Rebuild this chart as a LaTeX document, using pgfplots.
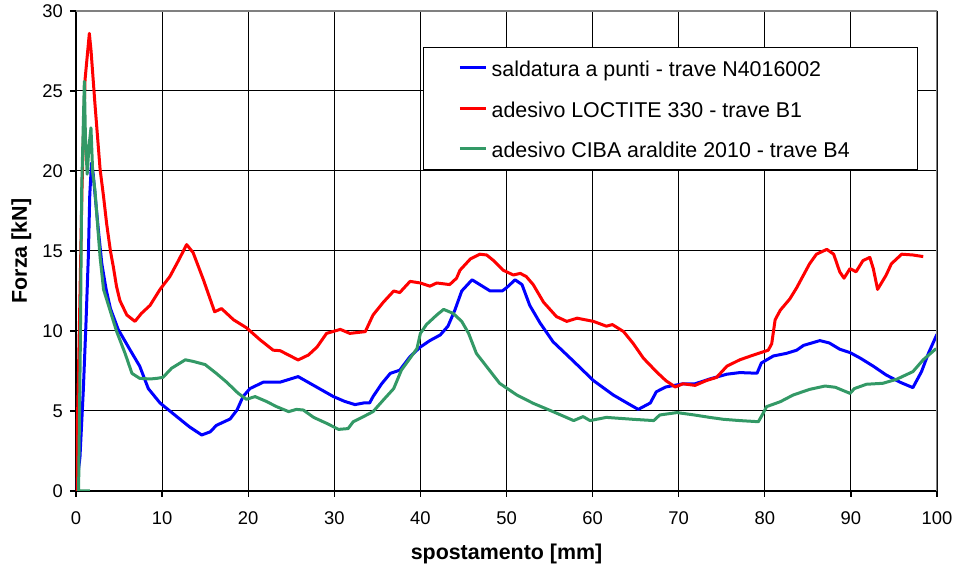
\documentclass[border=0pt]{standalone}
\usepackage{fontspec}
\setmainfont{Liberation Sans}
\usepackage{pgfplots}
\pgfplotsset{compat=1.18}
\definecolor{cibagreen}{RGB}{51,153,102}
\begin{document}
\begin{tikzpicture}
\begin{axis}[
    scale only axis,
    width=430.5pt, height=240pt,
    xmin=0, xmax=100, ymin=0, ymax=30,
    xtick distance=10, ytick distance=5,
    axis lines*=left,
    axis line style={-, black, line width=0.6pt},
    tick align=outside,
    major tick length=3pt,
    tick style={black, line width=0.6pt},
    grid=major,
    major grid style={black, line width=0.5pt},
    /pgf/number format/assume math mode=true,
    ticklabel style={font=\fontsize{9.2}{11}\selectfont},
    xticklabel style={yshift=-4pt},
    xlabel={\textbf{spostamento [mm]}},
    ylabel={\textbf{Forza [kN]}},
    label style={font=\fontsize{10.7}{12.8}\selectfont},
    xlabel style={at={([yshift=-34.5pt]axis description cs:0.5,0)}, anchor=base},
    ylabel style={at={([xshift=-24.5pt]axis description cs:0,0.5)}, anchor=base},
    legend style={at={(0.978,0.925)}, anchor=north east,
      draw=black, line width=0.6pt,
      font=\fontsize{10.7}{12.8}\selectfont,
      inner xsep=17.2pt, inner ysep=4.7pt, row sep=9.2pt,
      nodes={inner xsep=1.9pt, inner ysep=0pt, text height=10pt, text depth=1pt}},
    legend cell align=left,
    legend image code/.code={\draw[#1, line width=1.5pt] (0pt,0pt) -- (13.3pt,0pt);},
    every axis plot/.append style={line width=1.5pt, line join=round},
  ]
  % saldatura a punti
  \addplot[blue] coordinates {
    (0,0) (0.46,2.1) (0.85,6.3) (1.16,10.5) (1.43,14.6) (1.6,18.5) (1.8,20.5)
    (2.0,19.8) (2.2,18.6) (2.6,16.3) (3.0,14.2) (3.5,12.6) (4.0,11.4) (4.9,10.1)
    (6.3,8.8) (7.4,7.8) (8.4,6.4) (9.76,5.5) (11.7,4.65) (13.2,4.0) (14.6,3.5)
    (15.6,3.7) (16.3,4.1) (17.9,4.5) (18.7,5.06) (19.4,5.9) (20.2,6.4) (21.75,6.8)
    (23.7,6.8) (25.8,7.15) (27.6,6.6) (29.9,5.9) (31.2,5.6) (32.4,5.4) (33.4,5.5)
    (34.1,5.5) (34.5,5.9) (35.5,6.7) (36.5,7.35) (37.6,7.55) (38.8,8.4) (40.0,9.0)
    (41.1,9.4) (42.3,9.75) (43.2,10.3) (44.0,11.3) (44.8,12.5) (46.0,13.2) (46.9,12.9)
    (48.1,12.5) (49.5,12.5) (50.0,12.7) (51.0,13.2) (51.8,12.9) (52.7,11.6) (53.9,10.5)
    (55.4,9.33) (57.8,8.1) (60.1,6.9) (62.4,6.0) (64.0,5.5) (65.3,5.1) (66.7,5.5)
    (67.4,6.2) (68.5,6.5) (70.5,6.7) (71.9,6.7) (73.6,7.0) (75.6,7.3) (77.1,7.4)
    (79.1,7.36) (79.6,8.0) (81.0,8.44) (82.5,8.6) (83.7,8.8) (84.5,9.1) (86.4,9.4)
    (87.5,9.25) (88.7,8.86) (89.9,8.65) (91.1,8.3) (92.6,7.8) (94.1,7.25) (95.7,6.8)
    (97.2,6.46) (98.2,7.46) (99.0,8.6) (100,9.8)
  };
  % adesivo LOCTITE 330
  \addplot[red] coordinates {
    (0,0) (0.35,9) (0.7,19) (1.05,25.7) (1.55,28.6) (1.75,27.5) (2.2,24.2)
    (2.8,20.1) (3.2,18.4) (3.56,16.7) (4.0,15.0) (4.34,14.0) (4.7,12.8) (5.1,11.9)
    (5.9,11.0) (6.85,10.6) (7.6,11.1) (8.6,11.6) (9.76,12.6) (10.9,13.4) (11.9,14.4)
    (12.85,15.4) (13.6,14.9) (14.8,13.2) (16.1,11.2) (16.9,11.4) (18.3,10.7)
    (19.8,10.2) (21.4,9.44) (22.9,8.8) (23.7,8.77) (25.8,8.19) (27.0,8.5) (28.0,9.0)
    (29.1,9.85) (30.7,10.1) (31.8,9.85) (33.6,9.96) (34.5,11.0) (35.7,11.8)
    (36.9,12.5) (37.6,12.4) (38.8,13.1) (40.0,13.0) (41.1,12.8) (41.9,13.0)
    (43.4,12.9) (44.2,13.3) (44.6,13.8) (45.8,14.5) (46.9,14.8) (47.7,14.75)
    (48.5,14.4) (49.6,13.8) (50.8,13.5) (51.6,13.6) (52.3,13.4) (53.1,12.9)
    (54.3,11.8) (55.8,10.9) (57.0,10.6) (58.2,10.8) (60.1,10.6) (61.6,10.3)
    (62.3,10.4) (63.6,9.96) (64.7,9.23) (65.9,8.3) (67.4,7.46) (68.5,6.9) (69.6,6.5)
    (70.5,6.7) (71.9,6.6) (73.2,6.9) (74.4,7.1) (75.6,7.8) (77.1,8.2) (78.7,8.5)
    (80.4,8.8) (80.8,9.2) (81.2,10.7) (81.8,11.3) (82.9,12.0) (83.7,12.7) (84.5,13.5)
    (85.2,14.2) (86.0,14.8) (87.2,15.1) (88.0,14.8) (88.7,13.7) (89.2,13.3)
    (89.9,13.9) (90.6,13.7) (91.4,14.4) (92.2,14.6) (92.6,13.9) (93.1,12.6)
    (94.1,13.5) (94.7,14.2) (95.9,14.8) (97.2,14.75) (98.4,14.65)
  };
  % adesivo CIBA araldite 2010
  \addplot[cibagreen] coordinates {
    (1.6,0) (0.3,0) (0.5,9) (0.66,18.8) (0.97,25.6) (1.1,22) (1.3,19.8) (1.5,21.5)
    (1.74,22.7) (1.94,19.9) (2.2,18.8) (2.8,14.6) (3.2,12.6) (3.95,11.3) (4.7,10.0)
    (5.7,8.6) (6.5,7.35) (7.4,7.04) (8.6,7.0) (9.4,7.04) (10.1,7.1) (11.1,7.67)
    (12.7,8.2) (13.6,8.1) (15.0,7.9) (16.3,7.35) (17.5,6.8) (18.85,6.1) (19.8,5.73)
    (20.8,5.9) (22.1,5.6) (23.3,5.27) (24.7,4.96) (25.6,5.1) (26.4,5.06) (27.6,4.6)
    (29.1,4.23) (30.5,3.85) (31.6,3.9) (32.2,4.33) (33.4,4.65) (34.5,4.96)
    (35.7,5.69) (36.9,6.4) (37.8,7.56) (38.8,8.3) (39.6,8.9) (40.0,9.85) (40.7,10.4)
    (41.9,11.0) (42.7,11.35) (43.8,11.1) (44.8,10.6) (45.6,9.85) (46.5,8.6)
    (47.7,7.77) (49.2,6.73) (51.2,6.0) (53.1,5.48) (55.4,4.96) (57.8,4.4) (58.9,4.65)
    (59.7,4.4) (61.6,4.6) (64.7,4.48) (67.1,4.4) (67.8,4.75) (69.8,4.9) (71.7,4.76)
    (73.6,4.6) (75.2,4.48) (77.1,4.4) (79.25,4.33) (79.8,4.85) (80.2,5.27)
    (81.8,5.58) (83.3,6.0) (85.2,6.35) (87.0,6.56) (88.2,6.48) (89.9,6.1) (90.4,6.4)
    (91.8,6.67) (93.7,6.73) (95.3,6.98) (97.2,7.46) (98.4,8.2) (99.9,8.9)
  };
  \legend{\makebox[193.8pt][l]{saldatura a punti - trave N4016002},
          \makebox[193.8pt][l]{adesivo LOCTITE 330 - trave B1},
          \makebox[193.8pt][l]{adesivo CIBA araldite 2010 - trave B4}}
  \draw[gray, line width=1pt] (rel axis cs:0,1) -- (rel axis cs:1,1) -- (rel axis cs:1,0);
\end{axis}
\pgfresetboundingbox
\path[use as bounding box] ([shift={(-38pt,-36.5pt)}]current axis.south west)
  rectangle ([shift={(8pt,5.5pt)}]current axis.north east);
\end{tikzpicture}
\end{document}
